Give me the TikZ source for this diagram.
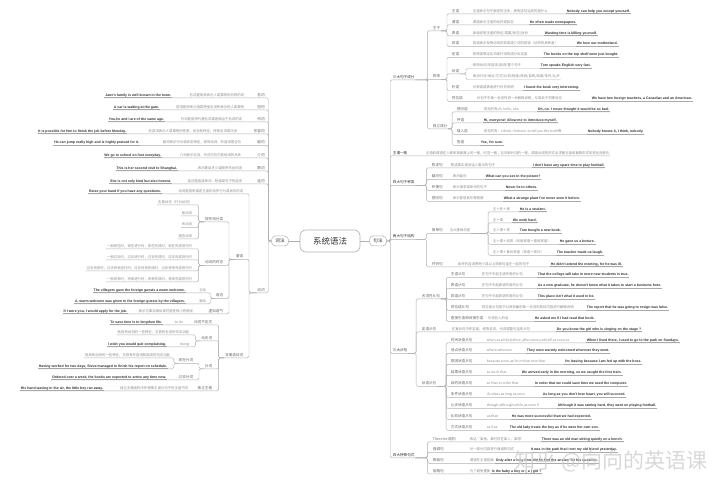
\documentclass[tikz,border=0pt]{standalone}
\usepackage{fontspec}
\setmainfont{Noto Sans CJK SC}
\newfontfamily\en{Liberation Sans}
\definecolor{ln}{HTML}{B0B0B0}
\definecolor{ln2}{HTML}{A4A4A4}
\definecolor{tx1}{HTML}{333333}
\definecolor{tx2}{HTML}{666666}
\definecolor{tx3}{HTML}{8A8A8A}
\begin{document}
\begin{tikzpicture}[x=1pt,y=-1pt,
  base/.style={inner xsep=0.7pt,inner ysep=0.6pt,text height=3.2pt,text depth=0.8pt},
  lab/.style={base,font=\fontsize{3.6}{4}\selectfont,text=tx2},
  l1/.style={base,font=\fontsize{3.6}{4}\selectfont,text=tx1},
  desc/.style={base,font=\fontsize{3.4}{4}\selectfont,text=tx3},
  ex/.style={base,font=\en\bfseries\fontsize{3.5}{4}\selectfont,text=tx1,
    append after command={(\tikzlastnode.south west) edge[exline] (\tikzlastnode.south east)}},
  conn/.style={draw=ln,line width=0.45pt,rounded corners=1.5pt},
  exline/.style={draw=ln2,line width=0.8pt},
  box/.style={draw=ln,line width=0.5pt,rounded corners=4pt,minimum width=17pt,minimum height=10pt,inner sep=0.5pt,font=\fontsize{4.6}{5}\selectfont,text=tx1,fill=white},
]
\fill[white] (0,0) rectangle (720,486);
\useasboundingbox (0,0) rectangle (720,486);

% ---------- centre ----------
\node[draw=ln,line width=0.6pt,rounded corners=6pt,minimum width=60pt,minimum height=22pt,font=\fontsize{8.5}{9}\selectfont,text=tx1,fill=white] (root) at (330,241) {系统语法};
\node[box] (mor) at (280,241) {词法};
\node[box] (syn) at (378,241) {句法};
\draw[conn] (root.west) -- (mor.east);
\draw[conn] (root.east) -- (syn.west);

% ---------- right side ----------
\begin{scope}[every node/.append style={anchor=west}]
\node[l1] (r1) at (392,77) {三大句子成分};
\node[l1] (r2) at (392,153) {主谓一致};
\node[desc] (r2d) at (425,153) {主语和谓语在人称和单复数上的一致，时态一致，名词和代词的一致，谓语动词的形式必须随主语单复数形式的变化而变化};
\node[l1] (r3) at (392,182.5) {四大句子种类};
\node[l1] (r4) at (392,236.5) {两大句子结构};
\node[l1] (r5) at (392,350.5) {三大从句};
\node[l1] (r6) at (392,455) {四大特殊句式};

\node[lab] (zg) at (432,28) {主干};
\node[lab] (xs) at (432,76.5) {修饰};
\node[lab] (dl) at (432,126) {独立成分};

\node[lab] (a1) at (451,11) {主语};
\node[desc] (a1d) at (472,11) {主语表示句子叙述的主体，表明这句话说的是什么};
\node[ex] (a1e) at (566,11) {Nobody can help you except yourself.};
\node[lab] (a2) at (451,22) {谓语};
\node[desc] (a2d) at (472,22) {谓语表示主语的动作或状态};
\node[ex] (a2e) at (529,22) {He often reads newspapers.};
\node[lab] (a3) at (451,33) {表语};
\node[desc] (a3d) at (472,33) {表语说明主语的特征/类属/状态/身份};
\node[ex] (a3e) at (544,33) {Wasting time is killing yourself.};
\node[lab] (a4) at (451,43.5) {宾语};
\node[desc] (a4d) at (472,43.5) {宾语表示及物动词的宾语或介词的宾语（动作的承受者）};
\node[ex] (a4e) at (576,43.5) {We love our motherland.};

\node[lab] (b1) at (451,54.5) {定语};
\node[desc] (b1d) at (472,54.5) {修饰或限定名词或代词的成分叫定语};
\node[ex] (b1e) at (543,54.5) {The books on the top shelf were just bought.};
\node[lab] (b2) at (451,71) {状语};
\node[desc] (b2a) at (472,65.7) {修饰动词/形容词/副词/整个句子};
\node[ex] (b2ae) at (540,65.7) {Tom speaks English very fast.};
\node[desc] (b2b) at (472,76.7) {表示时间/地点/方式/比较/程度/原因/目的/结果/条件/让步};
\node[lab] (b3) at (451,87.7) {补语};
\node[desc] (b3d) at (472,87.7) {对宾语或表语进行补充说明};
\node[ex] (b3e) at (523,87.7) {I found the book very interesting.};
\node[lab] (b4) at (451,98.5) {同位语};
\node[desc] (b4d) at (476,98.5) {对句子中某一名词作进一步解释说明，与其处于同等地位};
\node[ex] (b4e) at (591,98.5) {We have two foreign teachers, a Canadian and an American.};

\node[lab] (c1) at (456,109) {感叹语};
\node[desc] (c1d) at (483,109) {常见的有oh, hello, aha};
\node[ex] (c1e) at (537,109) {Oh, no. I never thought it would be so bad.};
\node[lab] (c2) at (456,120) {呼语};
\node[ex] (c2e) at (483,120) {Hi, everyone! Allow me to introduce myself.};
\node[lab] (c3) at (456,131.5) {插入语};
\node[desc] (c3d) at (483,131.5) {常见的有：I think, I believe, to tell you the truth等};
\node[ex] (c3e) at (587,131.5) {Nobody knows it, I think, nobody.};
\node[lab] (c4) at (456,142.5) {答语};
\node[ex] (c4e) at (480,142.5) {Yes, I'm sure.};

\node[lab] (d1) at (431,165) {陈述句};
\node[desc] (d1d) at (450,165) {陈述事实或说话人看法的句子};
\node[ex] (d1e) at (532,165) {I don't have any spare time to play football.};
\node[lab] (d2) at (431,176.5) {疑问句};
\node[desc] (d2d) at (452,176.5) {表示疑问};
\node[ex] (d2e) at (485,176.5) {What can you see in the picture?};
\node[lab] (d3) at (431,187.5) {祈使句};
\node[desc] (d3d) at (452,187.5) {表示请求或命令的句子};
\node[ex] (d3e) at (505,187.5) {Never lie to others.};
\node[lab] (d4) at (431,198.5) {感叹句};
\node[desc] (d4d) at (452,198.5) {表示喜怒哀乐等情感};
\node[ex] (d4e) at (503,198.5) {What a strange plant I've never seen it before.};

\node[lab] (e1) at (431,230.5) {简单句};
\node[desc] (e1d) at (449,230.5) {五大基础句型};
\node[desc] (f1) at (492,209) {主＋系＋表};
\node[ex] (f1e) at (519,209) {He is a student.};
\node[desc] (f2) at (492,220) {主＋谓};
\node[ex] (f2e) at (512,220) {We work hard.};
\node[desc] (f3) at (492,230.5) {主＋谓＋宾};
\node[ex] (f3e) at (519,230.5) {Tom bought a new book.};
\node[desc] (f4) at (492,241.5) {主＋谓＋双宾（间接宾语＋直接宾语）};
\node[ex] (f4e) at (559,241.5) {He gave us a lecture.};
\node[desc] (f5) at (492,252.5) {主＋谓＋复合宾语（宾语＋宾补）};
\node[ex] (f5e) at (556,252.5) {The teacher made us laugh.};
\node[lab] (e2) at (431,264) {并列句};
\node[desc] (e2d) at (457,264) {由并列连词把两个或以上简单句连在一起的句子};
\node[ex] (e2e) at (550,264) {He didn't attend the meeting, for he was ill.};

\node[lab] (g1) at (421,296) {名词性从句};
\node[lab] (h1) at (450,274.5) {主语从句};
\node[desc] (h1d) at (481,274.5) {在句子中起主语作用的从句};
\node[ex] (h1e) at (537,274.5) {That the college will take in more new students is true.};
\node[lab] (h2) at (450,285.5) {表语从句};
\node[desc] (h2d) at (481,285.5) {在句子中起表语作用的从句};
\node[ex] (h2e) at (537,285.5) {As a new graduate, he doesn't know what it takes to start a business here.};
\node[lab] (h3) at (450,296.5) {宾语从句};
\node[desc] (h3d) at (481,296.5) {在句子中起宾语作用的从句};
\node[ex] (h3e) at (537,296.5) {This place isn't what it used to be.};
\node[lab] (h4) at (450,307.5) {同位语从句};
\node[desc] (h4d) at (481,307.5) {同位语从句用于对其前面的某一名词的具体内容进行解释说明};
\node[ex] (h4e) at (586,307.5) {The report that he was going to resign was false.};
\node[lab] (h5) at (450,318.5) {直接引语和间接引语};
\node[desc] (h5d) at (487,318.5) {引述别人的话};
\node[ex] (h5e) at (534,318.5) {He asked me if I had read that book.};

\node[lab] (g2) at (421,329) {定语从句};
\node[desc] (g2d) at (451,329) {在复合句中作定语，修饰名词、代词或整句话的从句};
\node[ex] (g2e) at (556,329) {Do you know the girl who is singing on the stage ?};

\node[lab] (g3) at (421,383.5) {状语从句};
\node[lab] (k1) at (450,340) {时间状语从句};
\node[desc] (k1d) at (486,340) {when,as,while,before ,after,since,until,till,as soon as};
\node[ex] (k1e) at (586,340) {When I lived there, I used to go to the park on Sundays.};
\node[lab] (k2) at (450,350.5) {地点状语从句};
\node[desc] (k2d) at (486,350.5) {where,wherever};
\node[ex] (k2e) at (526,350.5) {They were warmly welcomed wherever they went.};
\node[lab] (k3) at (450,361.5) {原因状语从句};
\node[desc] (k3d) at (486,361.5) {because,since,as,for,in that,now that};
\node[ex] (k3e) at (564,361.5) {I'm leaving because I am fed up with the boss.};
\node[lab] (k4) at (450,372.5) {结果状语从句};
\node[desc] (k4d) at (486,372.5) {so/such that};
\node[ex] (k4e) at (521,372.5) {We arrived early in the morning, so we caught the first train.};
\node[lab] (k5) at (450,383.5) {目的状语从句};
\node[desc] (k5d) at (486,383.5) {so that,in order that};
\node[ex] (k5e) at (534,383.5) {In order that we could save time we used the computer.};
\node[lab] (k6) at (450,394.5) {条件状语从句};
\node[desc] (k6d) at (486,394.5) {if,unless,as long as,once};
\node[ex] (k6e) at (542,394.5) {As long as you don't lose heart, you will succeed.};
\node[lab] (k7) at (450,405.5) {让步状语从句};
\node[desc] (k7d) at (486,405.5) {though,although,while,as,even if};
\node[ex] (k7e) at (557,405.5) {Although it was raining hard, they went on playing football.};
\node[lab] (k8) at (450,416.5) {比较状语从句};
\node[desc] (k8d) at (486,416.5) {as,than};
\node[ex] (k8e) at (511,416.5) {He was more successful than we had expected.};
\node[lab] (k9) at (450,427.5) {方式状语从句};
\node[desc] (k9d) at (486,427.5) {as if,as};
\node[ex] (k9e) at (509,427.5) {The old lady treats the boy as if he were her own son.};

\node[lab] (m1) at (432,439) {There be 结构};
\node[desc] (m1d) at (469,439) {表达“某地、某时存在某人、某物”};
\node[ex] (m1e) at (541,439) {There was an old man sitting quietly on a bench.};
\node[lab] (m2) at (432,449.5) {强调句};
\node[desc] (m2d) at (469,449.5) {对一部分内容进行强调的句式};
\node[ex] (m2e) at (530,449.5) {It was in the park that I met my old friend yesterday.};
\node[lab] (m3) at (432,460.5) {倒装句};
\node[desc] (m3d) at (469,460.5) {谓语在主语前面};
\node[ex] (m3e) at (495,460.5) {Only after a long time did he find the answer for his question.};
\node[lab] (m4) at (432,471) {省略句};
\node[desc] (m4d) at (469,471) {为了避免重复};
\node[ex] (m4e) at (491,471) {Is the baby a boy or ( a ) girl ?};
\end{scope}

% right connectors
\foreach \nd in {r1,r2d,r3,r4,r5,r6} \draw[conn] (syn.east) -- ++(3.5,0) |- (\nd.south east);
\foreach \nd in {zg,xs,dl} \draw[conn] (r1.south east) -- ++(12,0) |- (\nd.south east);
\foreach \nd in {a1e,a2e,a3e,a4e} \draw[conn] (zg.south east) -- ++(6,0) |- (\nd.south east);
\foreach \nd in {b1e,b2,b3e,b4e} \draw[conn] (xs.south east) -- ++(6,0) |- (\nd.south east);
\foreach \nd in {b2ae,b2b} \draw[conn] (b2.south east) -- ++(6,0) |- (\nd.south east);
\foreach \nd in {c1e,c2e,c3e,c4e} \draw[conn] (dl.south east) -- ++(4,0) |- (\nd.south east);
\foreach \nd in {d1e,d2e,d3e,d4e} \draw[conn] (r3.south east) -- ++(11,0) |- (\nd.south east);
\foreach \nd in {e1d,e2e} \draw[conn] (r4.south east) -- ++(11,0) |- (\nd.south east);
\foreach \nd in {f1e,f2e,f3e,f4e,f5e} \draw[conn] (e1d.south east) -- ++(17,0) |- (\nd.south east);
\foreach \nd in {g1,g2e,g3} \draw[conn] (r5.south east) -- ++(8,0) |- (\nd.south east);
\foreach \nd in {h1e,h2e,h3e,h4e,h5e} \draw[conn] (g1.south east) -- ++(5.5,0) |- (\nd.south east);
\foreach \nd in {k1e,k2e,k3e,k4e,k5e,k6e,k7e,k8e,k9e} \draw[conn] (g3.south east) -- ++(9,0) |- (\nd.south east);
\foreach \nd in {m1e,m2e,m3e,m4e} \draw[conn] (r6.south east) -- ++(12,0) |- (\nd.south east);

% ---------- left side ----------
\begin{scope}[every node/.append style={anchor=east}]
\node[lab] (n1) at (265.5,95) {名词};
\node[desc] (n1d) at (245,95) {名词是用来表示人或事物的名称的词};
\node[ex] (n1e) at (172,95) {Jane's family is well known in the town.};
\node[lab] (n2) at (265.5,107) {冠词};
\node[desc] (n2d) at (245,107) {冠词是用来泛指或特指名词所表示的人或事物};
\node[ex] (n2e) at (160,107) {A car is waiting at the gate.};
\node[lab] (n3) at (265.5,119) {代词};
\node[desc] (n3d) at (243,119) {代词是用来代替名词或者相当于名词的词};
\node[ex] (n3e) at (165,119) {You,he and I are of the same age.};
\node[lab] (n4) at (265.5,131) {形容词};
\node[desc] (n4d) at (238,131) {形容词表示人或事物的性质、状态和特征，修饰名词或代词};
\node[ex] (n4e) at (127,131) {It is possible for him to finish the job before Monday.};
\node[lab] (n5) at (265.5,142.5) {副词};
\node[desc] (n5d) at (242,142.5) {副词表示行为或状态特征，修饰动词、形容词或全句};
\node[ex] (n5e) at (140,142.5) {He can jump really high and is highly praised for it.};
\node[lab] (n6) at (265.5,155) {介词};
\node[desc] (n6d) at (242,155) {介词表示名词、代词与句中其他词的关系};
\node[ex] (n6e) at (162,155) {We go to school on foot everyday.};
\node[lab] (n7) at (265.5,168) {数词};
\node[desc] (n7d) at (243,168) {表示数目多少或顺序先后的词};
\node[ex] (n7e) at (178,168) {This is her second visit to Shanghai.};
\node[lab] (n8) at (265.5,181) {连词};
\node[desc] (n8d) at (243,181) {连词是连接单词、短语或句子的虚词};
\node[ex] (n8e) at (172,181) {She is not only kind but also honest.};

\node[lab] (v) at (265.5,290) {动词};
\node[desc] (v0d) at (244,191) {动词是用来描述主语的动作行为或状态的词};
\node[ex] (v0e) at (162,191) {Raise your hand if you have any questions.};
\node[lab] (wy) at (244,256.5) {谓语};
\node[lab] (fw) at (244,355) {非谓语动词};

\node[lab] (zy) at (224,219) {按作用分类};
\node[desc] (p1) at (193,202) {实意动词（行为动词）};
\node[desc] (p2) at (193,213) {助动词};
\node[desc] (p3) at (193,224.5) {系动词};
\node[desc] (p4) at (193,236) {情态动词};
\node[lab] (sh) at (224,262.5) {动词的时态};
\node[desc] (q1) at (193,246) {一般现在时，现在进行时，现在完成时，现在完成进行时};
\node[desc] (q2) at (193,257) {一般过去时，过去进行时，过去完成时，过去完成进行时};
\node[desc] (q3) at (193,268) {过去将来时，过去将来进行时，过去将来完成时，过去将来完成进行时};
\node[desc] (q4) at (193,279) {一般将来时，将来进行时，将来完成时，将来完成进行时};
\node[lab] (yt) at (224,295.5) {语态};
\node[desc] (s1) at (207,290) {主动};
\node[ex] (s1e) at (186,290) {The villagers gave the foreign guests a warm welcome.};
\node[desc] (s2) at (207,301) {被动};
\node[ex] (s2e) at (186,301) {A. warm welcome was given to the foreign guests by the villagers.};
\node[lab] (xn) at (224,311) {虚拟语气};
\node[desc] (xnd) at (194,311) {表示与事实相反或可能性很小的假设};
\node[ex] (xne) at (128,311) {If I were you, I would apply for the job.};

\node[lab] (bd) at (213,322) {动词不定式};
\node[desc] (bdd) at (184,322) {to do};
\node[ex] (bde) at (163,322) {To save time is to lengthen life.};
\node[lab] (dm) at (213,338) {动名词};
\node[desc] (dm1) at (190,332) {既具有动词的一些特征，又具有名词的句法功能};
\node[desc] (dm2) at (190,344) {doing};
\node[ex] (dm2e) at (167,344) {I wish you would quit complaining.};
\node[lab] (fc) at (213,366) {分词};
\node[lab] (xz) at (194,360.5) {现在分词};
\node[desc] (xz1) at (171,355) {既具有动词的一些特征，又具有形容词和副词的句法功能};
\node[ex] (xz2e) at (168,366) {Having worked for two days, Steve managed to finish his report on schedule.};
\node[lab] (gq) at (194,377) {过去分词};
\node[ex] (gqe) at (167,377) {Ordered over a week, the books are expected to arrive any time now.};
\node[lab] (dz) at (213,388) {独立主格};
\node[desc] (dzd) at (189,388) {独立主格结构中作逻辑主语与句子的主语不同};
\node[ex] (dze) at (104,388) {His hand waving in the air, the little boy ran away.};
\end{scope}

% left connectors
\foreach \nd in {n1e,n2e,n3e,n4e,n5e,n6e,n7e,n8e,v} \draw[conn] (mor.west) -- ++(-3,0) |- (\nd.south west);
\foreach \nd in {v0e,wy,fw} \draw[conn] (v.south west) -- ++(-7.5,0) |- (\nd.south west);
\foreach \nd in {zy,sh,yt,xne} \draw[conn] (wy.south west) -- ++(-6,0) |- (\nd.south west);
\foreach \nd in {p1,p2,p3,p4} \draw[conn] (zy.south west) -- ++(-5.5,0) |- (\nd.south west);
\foreach \nd in {q1,q2,q3,q4} \draw[conn] (sh.south west) -- ++(-5.5,0) |- (\nd.south west);
\foreach \nd in {s1e,s2e} \draw[conn] (yt.south west) -- ++(-4.5,0) |- (\nd.south west);
\foreach \nd in {bde,dm,fc,dze} \draw[conn] (fw.south west) -- ++(-5.5,0) |- (\nd.south west);
\foreach \nd in {dm1,dm2e} \draw[conn] (dm.south west) -- ++(-5,0) |- (\nd.south west);
\foreach \nd in {xz,gqe} \draw[conn] (fc.south west) -- ++(-5,0) |- (\nd.south west);
\foreach \nd in {xz1,xz2e} \draw[conn] (xz.south west) -- ++(-4,0) |- (\nd.south west);

% watermark
\node[font=\fontsize{21}{22}\selectfont,text=gray!40,opacity=0.75] (wm) at (611,461) {知乎 @向向的英语课};
\end{tikzpicture}
\end{document}
